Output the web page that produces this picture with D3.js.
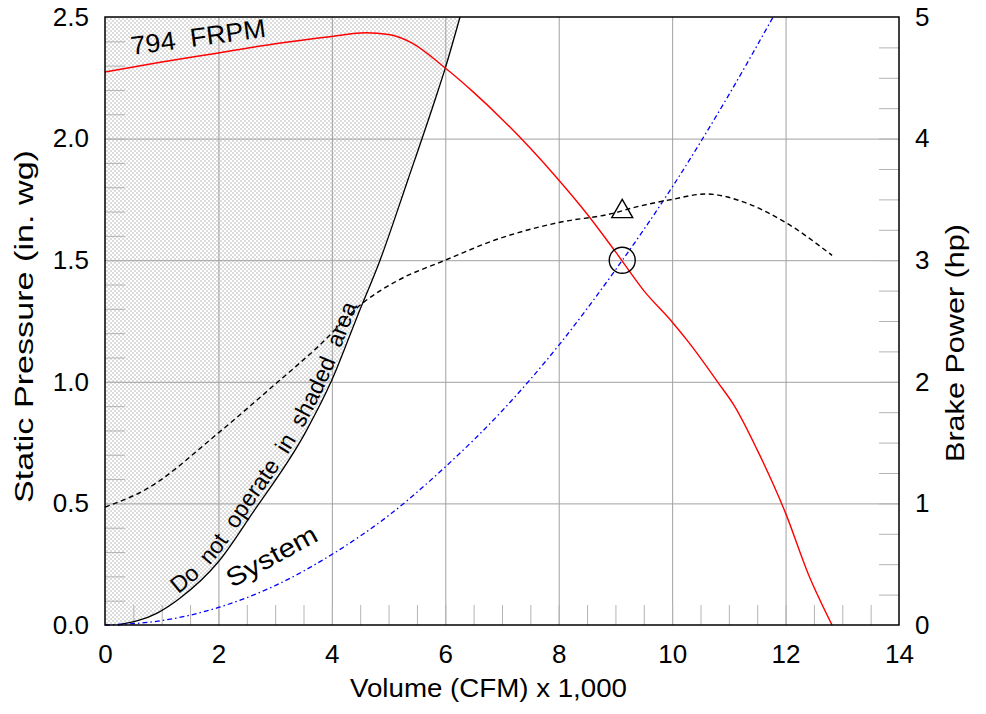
<!DOCTYPE html>
<html>
<head>
<meta charset="utf-8">
<script src="https://cdn.jsdelivr.net/npm/d3@7"></script>
<style>
body { margin: 0; background: #fff; }
text { font-family: "Liberation Sans", Arial, sans-serif; fill: #000; white-space: pre; }
</style>
</head>
<body>
<svg class="fan"></svg>
<script>
// fan curve, static pressure (in. wg) against volume (CFM x 1,000)
var fanFlow = [0, 1, 2, 3, 4, 4.6, 5, 5.4, 6, 6.5, 7, 7.5, 8, 8.5, 9, 9.5, 10, 10.3, 10.8, 11.1, 11.5, 12, 12.4, 12.82];
var fanSP = [2.274, 2.315, 2.352, 2.39, 2.42, 2.435, 2.428, 2.395, 2.29, 2.19, 2.08, 1.96, 1.83, 1.69, 1.535, 1.375, 1.246, 1.16, 1.0, 0.9, 0.72, 0.46, 0.21, 0];
// brake power (hp)
var bpFlow = [0, 0.7, 2, 3, 3.76, 4.55, 5.15, 6, 6.9, 8, 9, 9.3, 10, 10.6, 11.25, 12, 12.82];
var bpHP = [0.97, 1.11, 1.58, 1.98, 2.29, 2.65, 2.83, 3.0, 3.17, 3.31, 3.39, 3.43, 3.50, 3.545, 3.48, 3.31, 3.04];
// stall limit (edge of shaded area)
var stallFlow = [0.23, 0.92, 1.32, 2, 2.6, 3.53, 4, 4.45, 4.85, 5.34, 5.82, 6, 6.26];
var stallSP = [0, 0.049, 0.11, 0.26, 0.46, 0.79, 1.007, 1.27, 1.5, 1.83, 2.16, 2.29, 2.5];
// system curve
var sysFlow = [0, 1, 2, 3, 4, 5, 6, 7, 8, 9, 10, 11, 11.78];
var sysSP = [0, 0.018, 0.072, 0.162, 0.29, 0.45, 0.65, 0.88, 1.15, 1.46, 1.80, 2.18, 2.5];
// operating point
var opFlow = 9.12, opSP = 1.5, opHP = 3.40;

var xTicks = [0, 2, 4, 6, 8, 10, 12, 14];
var spTicks = [0, 0.5, 1.0, 1.5, 2.0, 2.5];
var hpTicks = [0, 1, 2, 3, 4, 5];

var m = {top: 17, left: 105},
  w = 794, h = 608;

var svg = d3.select('.fan').attr('width', 986).attr('height', 714);
var g = svg.append('g').attr('transform', 'translate(' + m.left + ',' + m.top + ')');

var x = d3.scaleLinear().domain([0, 14]).range([0, w]);
var y = d3.scaleLinear().domain([0, 2.5]).range([h, 0]);
var y2 = d3.scaleLinear().domain([0, 5]).range([h, 0]);

function pts(a, b) { return a.map(function(v, i) { return [v, b[i]]; }); }

var line = d3.line().x(function(d) { return x(d[0]); }).y(function(d) { return y(d[1]); }).curve(d3.curveMonotoneX);
var line2 = d3.line().x(function(d) { return x(d[0]); }).y(function(d) { return y2(d[1]); }).curve(d3.curveMonotoneX);

// hatch pattern for the shaded area
var pat = svg.append('defs').append('pattern').attr('id', 'hatch')
  .attr('patternUnits', 'userSpaceOnUse').attr('width', 4).attr('height', 4);
pat.append('path').attr('d', 'M0,0L4,4M4,0L0,4M-1,3L1,5M3,-1L5,1')
  .attr('stroke', '#c4c4c4').attr('stroke-width', 0.6);

var stall = pts(stallFlow, stallSP);
g.append('path')
  .attr('d', line(stall).replace(/^M/, 'M' + x(0) + ',' + y(2.5) + 'L' + x(0) + ',' + y(0) + 'L') + 'Z')
  .attr('fill', 'url(#hatch)');

// grid
g.append('g').attr('class', 'grid')
  .attr('transform', 'translate(0,' + h + ')')
  .call(d3.axisBottom(x).tickValues(xTicks.slice(1, -1)).tickSize(-h).tickFormat(''));
g.append('g').attr('class', 'grid')
  .call(d3.axisLeft(y).tickValues(spTicks.slice(1, -1)).tickSize(-w).tickFormat(''));

// minor ticks on three sides
g.append('g').attr('class', 'minor')
  .call(d3.axisLeft(y).tickValues(d3.range(1, 25).map(function(i) { return i / 10; })).tickSize(-20).tickFormat(''));
g.append('g').attr('class', 'minor')
  .attr('transform', 'translate(' + w + ',0)')
  .call(d3.axisRight(y2).tickValues(d3.range(1, 20).map(function(i) { return i / 4; })).tickSize(-20).tickFormat(''));
g.append('g').attr('class', 'minor')
  .attr('transform', 'translate(0,' + h + ')')
  .call(d3.axisBottom(x).tickValues(d3.range(1, 28).map(function(i) { return i / 2; })).tickSize(-20).tickFormat(''));

g.selectAll('.grid .domain, .minor .domain').remove();
g.selectAll('.grid line').attr('stroke', '#a0a0a0').attr('stroke-width', 1);
g.selectAll('.minor line').attr('stroke', '#b4b4b4').attr('stroke-width', 1);

// tick labels
var xa = g.append('g').attr('transform', 'translate(0,' + h + ')')
  .call(d3.axisBottom(x).tickValues(xTicks).tickSize(0).tickPadding(20).tickFormat(d3.format('d')));
var ya = g.append('g')
  .call(d3.axisLeft(y).tickValues(spTicks).tickSize(0).tickPadding(16).tickFormat(d3.format('.1f')));
var ya2 = g.append('g').attr('transform', 'translate(' + w + ',0)')
  .call(d3.axisRight(y2).tickValues(hpTicks).tickSize(0).tickPadding(16).tickFormat(d3.format('d')));
[xa, ya, ya2].forEach(function(a) {
  a.select('.domain').remove();
  a.selectAll('text').attr('font-size', 26).attr('font-family', null);
});

g.append('path').attr('d', line(stall)).attr('fill', 'none').attr('stroke', '#000').attr('stroke-width', 1.3);
g.append('path').attr('d', line(pts(sysFlow, sysSP))).attr('fill', 'none')
  .attr('stroke', '#0000ff').attr('stroke-width', 1.3).attr('stroke-dasharray', '5,3,1.5,3');
g.append('path').attr('d', line2(pts(bpFlow, bpHP))).attr('fill', 'none')
  .attr('stroke', '#000').attr('stroke-width', 1.4).attr('stroke-dasharray', '5,3.5');
g.append('path').attr('d', line(pts(fanFlow, fanSP))).attr('fill', 'none')
  .attr('stroke', '#ff0000').attr('stroke-width', 1.4);

// operating point markers
g.append('circle').attr('cx', x(opFlow)).attr('cy', y(opSP)).attr('r', 13)
  .attr('fill', 'none').attr('stroke', '#000').attr('stroke-width', 1.4);
g.append('path').attr('d', d3.symbol(d3.symbolTriangle, 190)())
  .attr('transform', 'translate(' + x(opFlow) + ',' + y2(opHP) + ')')
  .attr('fill', 'none').attr('stroke', '#000').attr('stroke-width', 1.4);

// labels on the curves
var off = d3.line().x(function(d) { return x(d[0]) - 3; }).y(function(d) { return y(d[1]) - 3; }).curve(d3.curveMonotoneX);
g.append('path').attr('id', 'stallpath').attr('d', off(stall)).attr('fill', 'none');
g.append('text').attr('font-size', 23)
  .append('textPath').attr('href', '#stallpath').attr('startOffset', 70)
  .text('Do  not  operate  in  shaded  area');

g.append('text').attr('font-size', 26).attr('textLength', 136).attr('lengthAdjust', 'spacingAndGlyphs')
  .attr('transform', 'translate(' + (132 - m.left) + ',' + (55 - m.top) + ') rotate(-7.7)')
  .text('794  FRPM');
g.append('text').attr('font-size', 26).attr('textLength', 100).attr('lengthAdjust', 'spacingAndGlyphs')
  .attr('transform', 'translate(' + (232 - m.left) + ',' + (588 - m.top) + ') rotate(-28.6)')
  .text('System');

// frame
g.append('rect').attr('width', w).attr('height', h).attr('fill', 'none')
  .attr('stroke', '#000').attr('stroke-width', 1.5);

// axis titles
svg.append('text').attr('font-size', 26).attr('x', 350).attr('y', 697)
  .attr('textLength', 277).attr('lengthAdjust', 'spacingAndGlyphs').text('Volume (CFM) x 1,000');
svg.append('text').attr('font-size', 26)
  .attr('textLength', 353).attr('lengthAdjust', 'spacingAndGlyphs')
  .attr('transform', 'translate(33,503) rotate(-90)').text('Static Pressure (in. wg)');
svg.append('text').attr('font-size', 26)
  .attr('textLength', 238).attr('lengthAdjust', 'spacingAndGlyphs')
  .attr('transform', 'translate(964,462) rotate(-90)').text('Brake Power (hp)');
</script>
</body>
</html>
